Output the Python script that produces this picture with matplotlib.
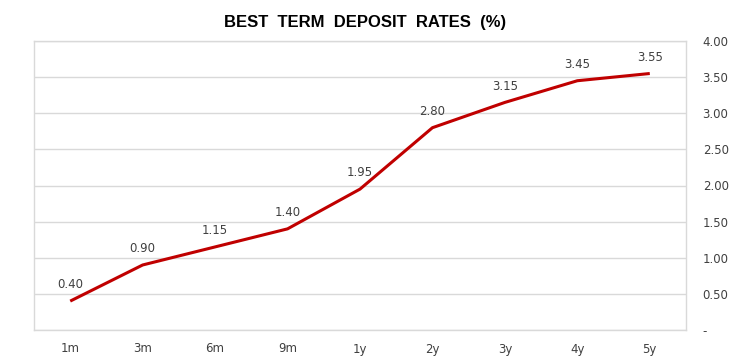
import matplotlib
matplotlib.use("Agg")
import matplotlib.pyplot as plt

terms = ["1m", "3m", "6m", "9m", "1y", "2y", "3y", "4y", "5y"]
rates = [0.40, 0.90, 1.15, 1.40, 1.95, 2.80, 3.15, 3.45, 3.55]
yticks = [0, 0.5, 1.0, 1.5, 2.0, 2.5, 3.0, 3.5, 4.0]
ytick_labels = ["-"] + ["%.2f" % v for v in yticks[1:]]

fig = plt.figure(figsize=(7.31, 3.61), dpi=100)
ax = fig.add_axes([34 / 731, 1 - 330 / 361, 652 / 731, 289 / 361])

x = list(range(len(terms)))
ax.plot(x, rates, color="#C00000", lw=2.2, solid_capstyle="butt", zorder=3)
for xi, v in zip(x, rates):
    ax.annotate("%.2f" % v, (xi, v), xytext=(0, 7), textcoords="offset points",
                ha="center", va="bottom", fontsize=8.5, color="#404040")

ax.set_xlim(-0.5, len(terms) - 0.5)
ax.set_ylim(0, 4)
ax.set_xticks(x)
ax.set_xticklabels(terms)
ax.set_yticks(yticks)
ax.set_yticklabels(ytick_labels)
ax.yaxis.tick_right()
ax.tick_params(axis="y", length=0, pad=12, labelsize=8.5, labelcolor="#404040")
ax.tick_params(axis="x", length=0, pad=9, labelsize=8.5, labelcolor="#404040")
for lab in ax.get_yticklabels():
    lab.set_horizontalalignment("left")
ax.grid(axis="y", color="#D9D9D9", lw=1)
for s in ax.spines.values():
    s.set_color("#D9D9D9")
    s.set_linewidth(1)

fig.text(365 / 731, 1 - 22 / 361, "BEST  TERM  DEPOSIT  RATES  (%)", ha="center", va="center",
         fontsize=12, fontweight="bold", color="black", family="Liberation Sans")

fig.savefig("out.png", dpi=100)
